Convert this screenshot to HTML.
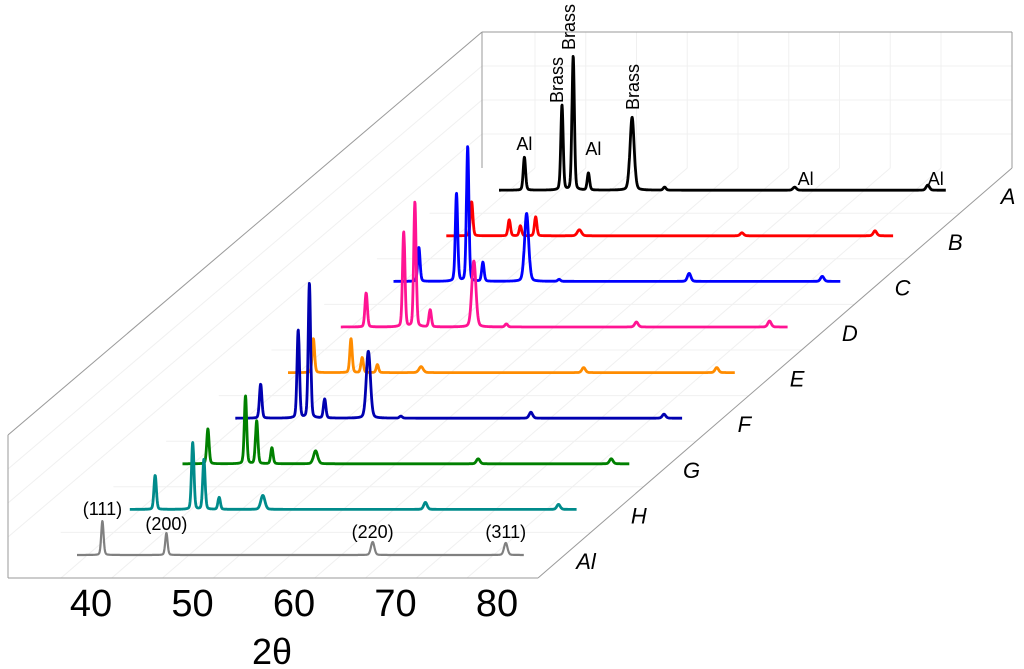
<!DOCTYPE html>
<html><head><meta charset="utf-8"><style>
html,body{margin:0;padding:0;background:#fff;}
svg{display:block;font-family:"Liberation Sans",sans-serif;}
</style></head><body>
<svg id="chart" width="1024" height="669" viewBox="0 0 1024 669">
<g id="grid"></g>
<g id="box" stroke="#9a9a9a" stroke-width="1" fill="none">
<line x1="482" y1="32" x2="1012" y2="32"/>
<line x1="1012" y1="32" x2="1012" y2="168"/>
<line x1="482" y1="32" x2="482" y2="168"/>
<line x1="482" y1="32" x2="8" y2="435"/>
<line x1="8" y1="435" x2="8" y2="578"/>
<line x1="8" y1="578" x2="538" y2="578"/>
<line x1="538" y1="578" x2="1012" y2="168"/>
</g>
<g id="series"></g>
<g id="labels" font-size="18" fill="#000" text-anchor="middle"></g>
<text x="272" y="664" font-size="36" text-anchor="middle">2θ</text>
</svg>
<script>
const positions = [38.5, 42.2, 43.3, 44.8, 49.1, 52.3, 65.1, 78.2];
const seriesNames = ["Al","H","G","F","E","D","C","B","A"];
const hAl = [34,0,0,22,0,0,13,12];
const hH = [34,67,50,12,14,0,7,5];
const hG = [35,68,43,16,13,0,5,5];
const hF = [34,88,135,19,67,2,6,4];
const hE = [34,34,15,8,6,0,5,5];
const hD = [34,95,125,17,66,3,5,6];
const hC = [34,88,135,19,68,2,8,5];
const hB = [34,16,10,19,6,0,3,5];
const hA = [33,85,134,17,73,3,3,5];
const xTicks = [40,50,60,70,80];
const alLabels = ["(111)","(200)","(220)","(311)"];
const alLabelPos = [38.5,44.8,65.1,78.2];

const heights=[hAl,hH,hG,hF,hE,hD,hC,hB,hA];
const colors=["#808080","#008b8b","#008000","#0000b0","#ff8c00","#ff1493","#0000ff","#ff0000","#000000"];
const widths=[0.14,0.14,0.14,0.14,0.24,0.16,0.2,0.2];
const T0=36,T1=80,PX=10.16;
function sx(i){return 77+52.75*i;}
function sy(i){return 555-45.6*i;}
function X(i,t){return sx(i)+(t-T0)*PX;}
const NS="http://www.w3.org/2000/svg";
const grid=document.getElementById('grid');
function gl(x1,y1,x2,y2){const l=document.createElementNS(NS,'line');l.setAttribute('x1',x1);l.setAttribute('y1',y1);l.setAttribute('x2',x2);l.setAttribute('y2',y2);l.setAttribute('stroke','#f0f0f0');l.setAttribute('stroke-width','1');


grid.appendChild(l);}
for(let t=40;t<=80;t+=5){const fx=91+(t-40)*10.15;const bx=fx+474;gl(fx-30,578,bx-30,168);gl(bx-30,32,bx-30,168);}
for(let k=1;k<=4;k++){const y=168-k*34;gl(482,y,1012,y);gl(482,y,8,y+403);}
for(let i=0;i<9;i++){gl(8+52.7*i,578-45.6*i,538+52.7*i,578-45.6*i);}
const sg=document.getElementById('series');
for(let i=8;i>=0;i--){
  const h=heights[i];let d="";
  for(let t=T0;t<=T1+1e-9;t+=0.03){
    let v=0;for(let k=0;k<positions.length;k++){const z=(t-positions[k])/widths[k];v+=h[k]*(0.8*Math.exp(-0.693*z*z)+0.2/(1+z*z));}
    d+=(d?"L":"M")+X(i,t).toFixed(1)+","+(sy(i)-v).toFixed(1);
  }
  const p=document.createElementNS(NS,'path');
  p.setAttribute('d',d);p.setAttribute('fill','none');p.setAttribute('stroke',colors[i]);
  p.setAttribute('stroke-width',i===0?'2.2':'2.8');p.setAttribute('stroke-linejoin','round');
  
  
  sg.appendChild(p);
  const lt=document.createElementNS(NS,'text');
  lt.setAttribute('x',X(i,T1)+62);lt.setAttribute('y',sy(i)+14);
  lt.setAttribute('font-size','22');lt.setAttribute('font-style','italic');lt.setAttribute('text-anchor','middle');
  lt.textContent=seriesNames[i];
  
  
  document.getElementById('chart').appendChild(lt);
}
const lg=document.getElementById('labels');
function txt(x,y,s,rot,name){const t=document.createElementNS(NS,'text');t.setAttribute('x',x);t.setAttribute('y',y);t.textContent=s;
if(rot){t.setAttribute('transform','rotate(-90 '+x+' '+y+')');}


lg.appendChild(t);return t;}
const alLabY=[515,530,538,538];
for(let k=0;k<alLabels.length;k++){txt(X(0,alLabelPos[k]),alLabY[k],alLabels[k],false,'peak-label-al');}
txt(X(8,38.5),150,"Al",false,'peak-label-a');
txt(X(8,42.2)+1,80,"Brass",true,'peak-label-a');
txt(X(8,43.3)+2,27,"Brass",true,'peak-label-a');
txt(X(8,44.8)+5,155,"Al",false,'peak-label-a');
txt(X(8,49.1)+7,87,"Brass",true,'peak-label-a');
txt(X(8,65.1)+11,185,"Al",false,'peak-label-a');
txt(X(8,78.2)+8,185,"Al",false,'peak-label-a');
for(let k=0;k<xTicks.length;k++){const t=document.createElementNS(NS,'text');t.setAttribute('x',91+(xTicks[k]-40)*10.15);t.setAttribute('y',616);
t.setAttribute('font-size','38');t.setAttribute('text-anchor','middle');t.textContent=xTicks[k];


document.getElementById('chart').appendChild(t);}
</script>
</body></html>
